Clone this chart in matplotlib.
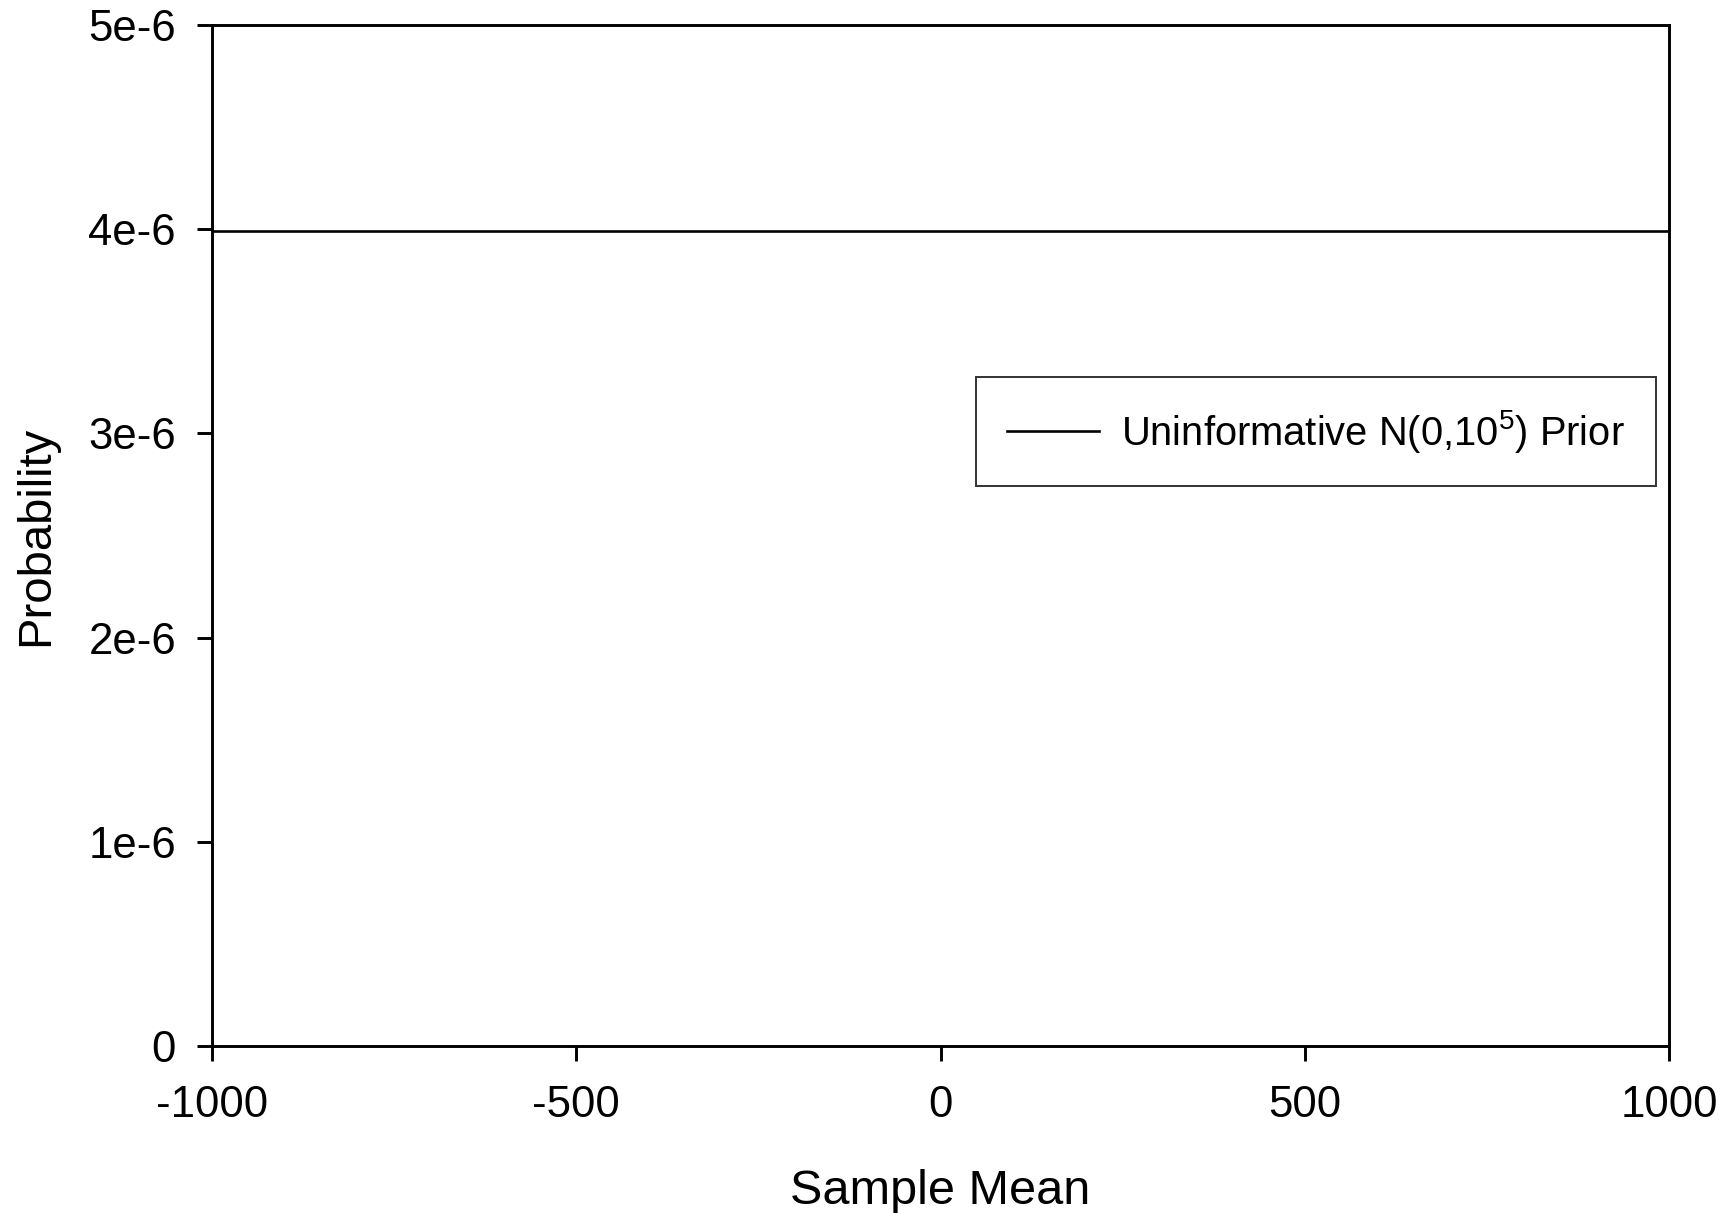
import matplotlib
matplotlib.use("Agg")
import matplotlib.pyplot as plt

plt.rcParams['font.family'] = ['Liberation Sans', 'DejaVu Sans']
plt.rcParams['mathtext.fontset'] = 'custom'
plt.rcParams['mathtext.rm'] = 'Liberation Sans'
plt.rcParams['mathtext.it'] = 'Liberation Sans:italic'

# data
sample_mean = [-1000, -500, 0, 500, 1000]
prior_density = [3.989e-6, 3.989e-6, 3.989e-6, 3.989e-6, 3.989e-6]

x_ticks = [-1000, -500, 0, 500, 1000]
x_tick_labels = ["-1000", "-500", "0", "500", "1000"]
y_ticks = [0, 1e-6, 2e-6, 3e-6, 4e-6, 5e-6]
y_tick_labels = ["0", "1e-6", "2e-6", "3e-6", "4e-6", "5e-6"]
legend_label = "Uninformative N(0,10$^{5}$) Prior"

fig = plt.figure(figsize=(17.31, 12.13), dpi=100)
ax = fig.add_axes([0.1225, 0.1377, 0.8417, 0.8417])

ax.plot(sample_mean, prior_density, color='black', lw=1.9, label=legend_label)

ax.set_xlim(-1000, 1000)
ax.set_ylim(0, 5e-6)
ax.set_xticks(x_ticks)
ax.set_xticklabels(x_tick_labels)
ax.set_yticks(y_ticks)
ax.set_yticklabels(y_tick_labels)

for s in ax.spines.values():
    s.set_linewidth(2.1)
ax.tick_params(axis='both', direction='out', length=11, width=2.1,
               labelsize=31.5, top=False, right=False)
ax.tick_params(axis='y', pad=15)
ax.tick_params(axis='x', pad=17)

ax.set_xlabel("Sample Mean", fontsize=35, labelpad=31)
ax.set_ylabel("Probability", fontsize=34, labelpad=22)

leg = ax.legend(loc='upper left', bbox_to_anchor=(0.5244, 0.6552),
                fontsize=28.7, frameon=True, fancybox=False, borderpad=0.78,
                handlelength=2.3, handletextpad=0.55, borderaxespad=0)
leg.get_frame().set_edgecolor('black')
leg.get_frame().set_linewidth(1.4)
leg.get_lines()[0].set_linewidth(1.9)

fig.savefig("out.png", dpi=100)
